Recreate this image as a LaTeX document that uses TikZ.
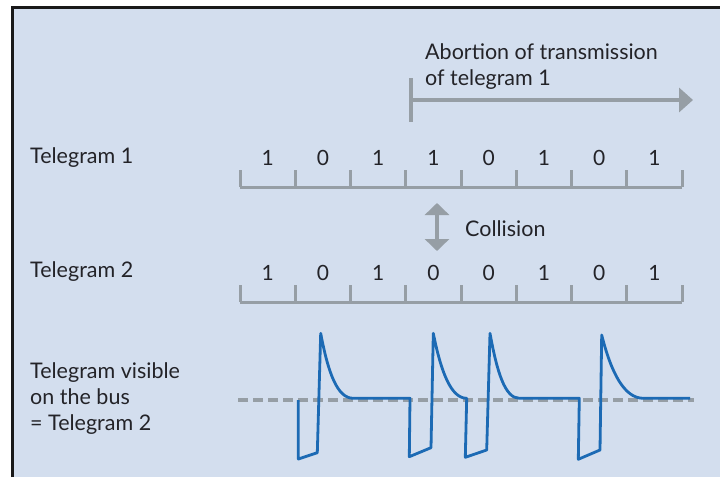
\documentclass[tikz,border=0pt]{standalone}
\usepackage{fontspec}
\setmainfont{Lato}
\usetikzlibrary{arrows.meta}
\definecolor{bgblue}{RGB}{211,222,238}
\definecolor{rulegray}{RGB}{150,158,165}
\definecolor{wave}{RGB}{28,106,180}
\definecolor{txt}{RGB}{35,35,40}
\begin{document}
\begin{tikzpicture}[x=1pt,y=-1pt,
  lbl/.style={anchor=west,inner sep=0pt,text=txt,font=\fontsize{21.5}{26}\selectfont,align=left},
  bit/.style={inner sep=0pt,text=txt,font=\fontsize{21}{25}\selectfont},
  grayline/.style={draw=rulegray,line width=3.5pt},
  scaleline/.style={draw=rulegray,line width=3pt},
  waveline/.style={draw=wave,line width=2.8pt,line join=round},
  baseline/.style={draw=rulegray,line width=3.2pt,dash pattern=on 10pt off 5pt}]
\useasboundingbox (0,0) rectangle (720,477);
\fill[bgblue] (12,8) rectangle (720,477);
\draw[line width=3pt,black!90] (12,477) -- (12,7.5) -- (721,7.5);

% labels
\node[lbl] (t1) at (30,158) {Telegram 1};
\node[lbl] (t2) at (30,272) {Telegram 2};
\node[lbl] (vis) at (30,399) {Telegram visible\\on the bus\\= Telegram 2};
\node[lbl] (abt) at (425,67) {Abortion of transmission\\of telegram 1};
\node[lbl] (col) at (465,229) {Collision};

% abortion arrow
\coordinate (abA) at (411,100);
\coordinate (abB) at (693,100);
\coordinate (abTop) at (411,78);
\coordinate (abBot) at (411,122);
\draw[grayline] (abTop) -- (abBot);
\draw[grayline,-{Triangle[length=14pt,width=24pt]}] (abA) -- (abB);

% collision arrow
\coordinate (cTop) at (437,203);
\coordinate (cBot) at (437,251);
\draw[grayline,{Triangle[length=12pt,width=24pt]}-{Triangle[length=12pt,width=24pt]}] (cTop) -- (cBot);

% bit scales
\foreach \row/\ly/\ty/\bits in {1/187/158/{1,0,1,1,0,1,0,1}, 2/302/273/{1,0,1,0,0,1,0,1}}{
  \draw[scaleline] (240,\ly) -- (682,\ly);
  \foreach \i in {0,...,8}{
    \draw[scaleline] ({240+55.25*\i},\ly-17) -- ({240+55.25*\i},\ly);
  }
  \foreach \b [count=\k from 0] in \bits {
    \node[bit] (b\row\k) at ({267.6+55.25*\k},\ty) {\b};
  }
}

% dashed bus level
\draw[baseline] (238,400) -- (694,400);

% waveform
\draw[waveline]
  (298.3,400) -- (298.3,459) -- (317.3,452.7) -- (320.7,333.3)
  .. controls (328,372) and (337,398.3) .. (353.3,398.3)
  -- (410,398.3) -- (409.3,456.7) -- (431,447.7) -- (433.3,333.3)
  .. controls (441,372) and (451,398.3) .. (466.7,398.3)
  -- (465.3,457.3) -- (486.7,450) -- (490,333.3)
  .. controls (497,372) and (505,398.3) .. (519.3,398.3)
  -- (579.3,398.3) -- (578.3,459.3) -- (600,450) -- (601.7,335)
  .. controls (611,372) and (624,398.3) .. (643.3,398.3)
  -- (690,398.3);
\end{tikzpicture}
\end{document}
